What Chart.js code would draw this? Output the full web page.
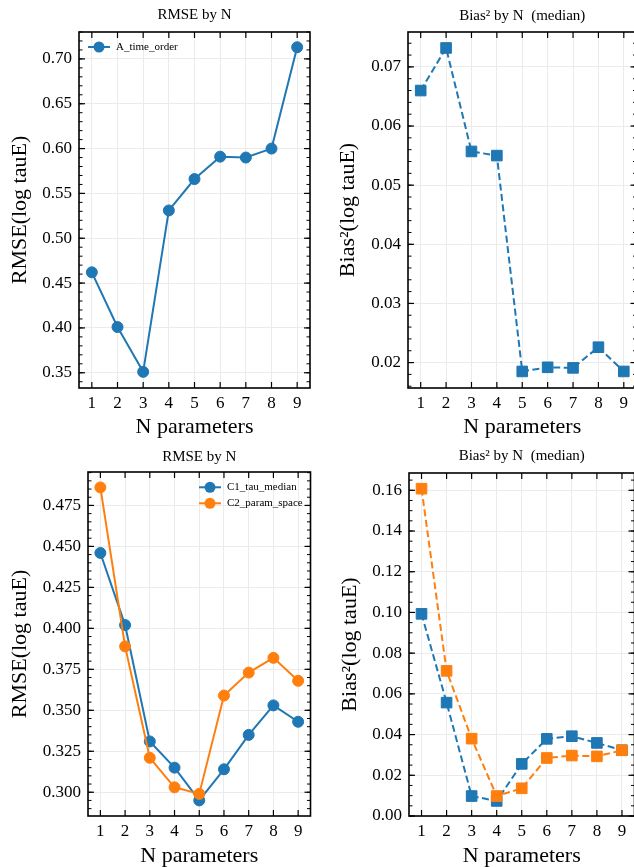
<!DOCTYPE html>
<html lang="en">
<head>
<meta charset="UTF-8">
<title>RMSE / Bias² by N</title>
<script src="https://cdn.jsdelivr.net/npm/chart.js"></script>
<style>
  html, body { margin: 0; padding: 0; background: #fff; overflow: hidden; width: 634px; height: 867px; }
  .panel { position: absolute; }
</style>
</head>
<body>
<div class="panel" style="left:0;top:0"><canvas id="rmseA" width="317" height="440"></canvas></div>
<div class="panel" style="left:317px;top:0"><canvas id="biasA" width="330" height="440"></canvas></div>
<div class="panel" style="left:0;top:440px"><canvas id="rmseC" width="317" height="430"></canvas></div>
<div class="panel" style="left:317px;top:440px"><canvas id="biasC" width="330" height="430"></canvas></div>

<script>
// ---- data ----
const nParams = ['1', '2', '3', '4', '5', '6', '7', '8', '9'];

const rmseA  = [0.462, 0.401, 0.351, 0.531, 0.566, 0.591, 0.590, 0.600, 0.713];
const biasA  = [0.0660, 0.0732, 0.0557, 0.0550, 0.0185, 0.0192, 0.0191, 0.0226, 0.0185];

const rmseC1 = [0.446, 0.402, 0.331, 0.315, 0.295, 0.314, 0.335, 0.353, 0.343];
const rmseC2 = [0.486, 0.389, 0.321, 0.303, 0.299, 0.359, 0.373, 0.382, 0.368];
const biasC1 = [0.0993, 0.0557, 0.0098, 0.0074, 0.0256, 0.0379, 0.0392, 0.0359, 0.0323];
const biasC2 = [0.1608, 0.0713, 0.0380, 0.0098, 0.0136, 0.0285, 0.0297, 0.0293, 0.0323];

// y tick labels of each panel
const rmseATicks = [0.35, 0.40, 0.45, 0.50, 0.55, 0.60, 0.65, 0.70];
const biasATicks = [0.02, 0.03, 0.04, 0.05, 0.06, 0.07];
const rmseCTicks = [0.300, 0.325, 0.350, 0.375, 0.400, 0.425, 0.450, 0.475];
const biasCTicks = [0.00, 0.02, 0.04, 0.06, 0.08, 0.10, 0.12, 0.14, 0.16];

const BLUE = '#1f77b4';
const ORANGE = '#ff7f0e';
const SERIF = '"Liberation Serif", "DejaVu Serif", serif';

Chart.defaults.font.family = SERIF;
Chart.defaults.color = '#000';

// spines + inward ticks (major and minor), matplotlib style
const framePlugin = {
  id: 'frame',
  afterDatasetsDraw(chart, args, o) {
    const { ctx, chartArea: a, scales: { x, y } } = chart;
    const seg = (x1, y1, x2, y2) => { ctx.beginPath(); ctx.moveTo(x1, y1); ctx.lineTo(x2, y2); ctx.stroke(); };
    ctx.save();
    ctx.strokeStyle = '#000';
    ctx.setLineDash([]);
    ctx.lineWidth = 1.2;
    x.ticks.forEach((t, i) => {
      const px = x.getPixelForTick(i);
      seg(px, a.bottom, px, a.bottom - 6);
      seg(px, a.top, px, a.top + 6);
    });
    y.ticks.forEach(t => {
      const py = y.getPixelForValue(t.value);
      seg(a.left, py, a.left + 6, py);
      seg(a.right, py, a.right - 6, py);
    });
    ctx.lineWidth = 1;
    const k0 = Math.ceil(y.min / o.minor - 1e-6), k1 = Math.floor(y.max / o.minor + 1e-6);
    for (let k = k0; k <= k1; k++) {
      const py = y.getPixelForValue(k * o.minor);
      seg(a.left, py, a.left + 3.5, py);
      seg(a.right, py, a.right - 3.5, py);
    }
    ctx.lineWidth = 1.6;
    ctx.strokeRect(a.left, a.top, a.right - a.left, a.bottom - a.top);
    ctx.restore();
  }
};

// legend with line through marker, drawn inside the axes
const lineLegend = {
  id: 'lineLegend',
  afterDraw(chart, args, o) {
    const ctx = chart.ctx;
    ctx.save();
    chart.data.datasets.forEach((ds, i) => {
      const cy = o.y + i * o.rowH;
      ctx.strokeStyle = ds.borderColor;
      ctx.lineWidth = ds.borderWidth;
      ctx.beginPath(); ctx.moveTo(o.x - 11, cy); ctx.lineTo(o.x + 11, cy); ctx.stroke();
      ctx.fillStyle = ds.borderColor;
      ctx.beginPath(); ctx.arc(o.x, cy, ds.pointRadius, 0, Math.PI * 2); ctx.fill();
      ctx.fillStyle = '#000';
      ctx.font = '11px ' + SERIF;
      ctx.textBaseline = 'middle';
      ctx.fillText(ds.label, o.x + 17, cy);
    });
    ctx.restore();
  }
};

function series(label, values, color, square) {
  return {
    label: label,
    data: values,
    borderColor: color,
    backgroundColor: color,
    pointBackgroundColor: color,
    pointBorderColor: color,
    borderWidth: 2,
    borderDash: square ? [7, 3.5] : [],
    pointStyle: square ? 'rect' : 'circle',
    pointRadius: square ? 7.5 : 5.5,
    pointBorderWidth: 1,
    tension: 0,
    clip: false
  };
}

function makePanel(id, p) {
  const plugins = [framePlugin];
  if (p.legend) plugins.push(lineLegend);
  new Chart(document.getElementById(id), {
    type: 'line',
    data: { labels: nParams, datasets: p.datasets },
    plugins: plugins,
    options: {
      responsive: false,
      animation: false,
      events: [],
      layout: { padding: { left: 0, top: 0, right: p.padRight, bottom: 0 } },
      plugins: {
        legend: { display: false },
        tooltip: { enabled: false },
        title: {
          display: true, text: p.title, fullSize: false,
          font: { size: 15, weight: 'normal' }, color: '#000',
          padding: { top: p.titleTop, bottom: p.titleBottom }
        },
        frame: { minor: p.minor },
        lineLegend: p.legend || {}
      },
      scales: {
        x: {
          type: 'category',
          offset: true,
          grid: { offset: false, color: '#ebebeb', lineWidth: 1, drawTicks: false },
          border: { display: false },
          ticks: { font: { size: 17 }, color: '#000', padding: 5, maxRotation: 0 },
          title: { display: true, text: 'N parameters', font: { size: 22 }, color: '#000', padding: { top: 0, bottom: p.xTitlePad } },
          afterFit: s => { s.height = p.xHeight; }
        },
        y: {
          min: p.yMin, max: p.yMax,
          grid: { color: '#ebebeb', lineWidth: 1, drawTicks: false },
          border: { display: false },
          ticks: { font: { size: 17 }, color: '#000', padding: 7, callback: v => Number(v).toFixed(p.dec) },
          afterBuildTicks: s => { s.ticks = p.ticks.map(v => ({ value: v })); },
          title: { display: true, text: p.yTitle, font: { size: 22 }, color: '#000', padding: { top: p.yTitlePad, bottom: 0 } },
          afterFit: s => { s.width = p.yWidth; }
        }
      }
    }
  });
}

makePanel('rmseA', {
  title: 'RMSE by N', titleTop: 6, titleBottom: 8,
  yTitle: 'RMSE(log tauE)', yTitlePad: 6.8,
  datasets: [series('A_time_order', rmseA, BLUE, false)],
  yMin: 0.333, yMax: 0.730, ticks: rmseATicks, dec: 2, minor: 0.01,
  yWidth: 79, xHeight: 52, padRight: 7, xTitlePad: 0,
  legend: { x: 99, y: 47, rowH: 16 }
});

makePanel('biasA', {
  title: 'Bias² by N  (median)', titleTop: 7, titleBottom: 7,
  yTitle: 'Bias²(log tauE)', yTitlePad: 17.8,
  datasets: [series('A_time_order', biasA, BLUE, true)],
  yMin: 0.0157, yMax: 0.0759, ticks: biasATicks, dec: 2, minor: 0.002,
  yWidth: 91, xHeight: 52, padRight: 10.5, xTitlePad: 0
});

const c1 = series('C1_tau_median', rmseC1, BLUE, false); c1.order = 1;
const c2 = series('C2_param_space', rmseC2, ORANGE, false); c2.order = 0;
makePanel('rmseC', {
  title: 'RMSE by N', titleTop: 7.8, titleBottom: 6.2,
  yTitle: 'RMSE(log tauE)', yTitlePad: 6.8,
  datasets: [c1, c2],
  yMin: 0.2855, yMax: 0.4954, ticks: rmseCTicks, dec: 3, minor: 0.005,
  yWidth: 88, xHeight: 54, padRight: 4, xTitlePad: 1,
  legend: { x: 210, y: 47.3, rowH: 16 }
});

const b1 = series('C1_tau_median', biasC1, BLUE, true); b1.order = 1;
const b2 = series('C2_param_space', biasC2, ORANGE, true); b2.order = 0;
makePanel('biasC', {
  title: 'Bias² by N  (median)', titleTop: 7.5, titleBottom: 7.5,
  yTitle: 'Bias²(log tauE)', yTitlePad: 20.3,
  datasets: [b1, b2],
  yMin: 0, yMax: 0.1685, ticks: biasCTicks, dec: 2, minor: 0.005,
  yWidth: 92, xHeight: 54, padRight: 12.5, xTitlePad: 1
});
</script>
</body>
</html>
